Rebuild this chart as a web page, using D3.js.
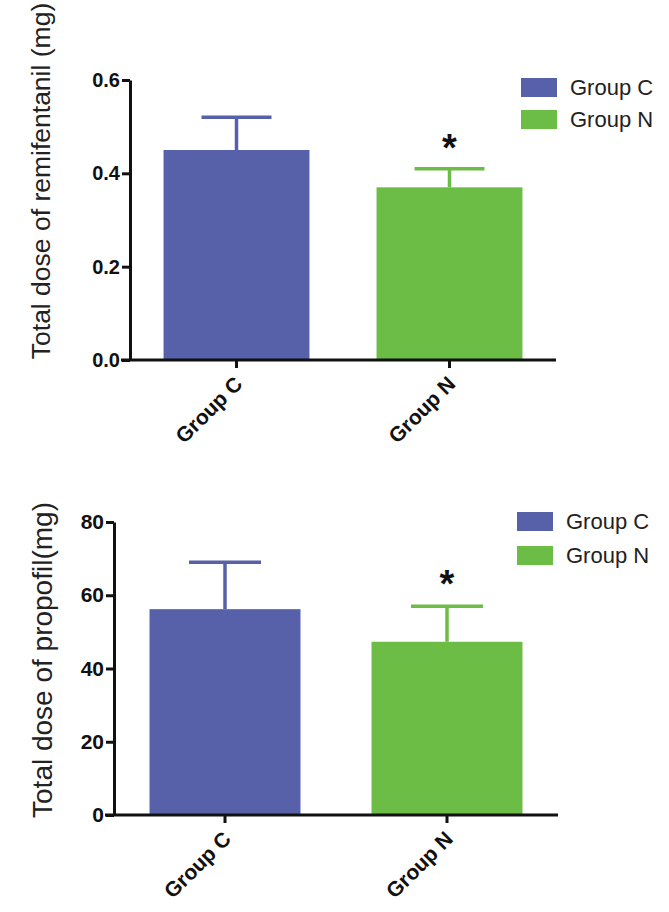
<!DOCTYPE html>
<html>
<head>
<meta charset="utf-8">
<script src="https://cdn.jsdelivr.net/npm/d3@7/dist/d3.min.js"></script>
<style>
  html, body { margin: 0; padding: 0; background: #fff; }
  svg text { font-family: "Liberation Sans", Arial, Helvetica, sans-serif; }
</style>
</head>
<body>
<svg id="chart" width="669" height="912"></svg>
<script>
// ---- data ----
const categories = ["Group C", "Group N"];
const remiMeans = [0.45, 0.37];
const remiSD = [0.07, 0.04];
const remiTicks = [0, 0.2, 0.4, 0.6];
const remiTitle = "Total dose of remifentanil (mg)";
const propMeans = [56.2, 47.3];
const propSD = [12.8, 9.7];
const propTicks = [0, 20, 40, 60, 80];
const propTitle = "Total dose of propofil(mg)";
const significant = [false, true];
const colors = ["#5761a9", "#6bbd45"];

const svg = d3.select("#chart");

function drawPanel(opt) {
  const g = svg.append("g");
  const x = d3.scaleBand().domain(categories)
    .range([opt.x0, opt.x1]).paddingInner(opt.pad).paddingOuter(opt.pad / 2);
  const y = d3.scaleLinear().domain([0, opt.ymax]).range([opt.y0, opt.y1]);

  // bars
  g.selectAll("rect.bar").data(categories).join("rect")
    .attr("class", "bar")
    .attr("x", d => x(d))
    .attr("width", x.bandwidth())
    .attr("y", (d, i) => y(opt.means[i]))
    .attr("height", (d, i) => y(0) - y(opt.means[i]))
    .attr("fill", (d, i) => colors[i]);

  // error bars (upper only)
  categories.forEach((c, i) => {
    const cx = x(c) + x.bandwidth() / 2;
    const top = y(opt.means[i] + opt.sd[i]);
    g.append("line").attr("x1", cx).attr("x2", cx)
      .attr("y1", y(opt.means[i])).attr("y2", top)
      .attr("stroke", colors[i]).attr("stroke-width", 3.5);
    g.append("line").attr("x1", cx - opt.cap).attr("x2", cx + opt.cap)
      .attr("y1", top).attr("y2", top)
      .attr("stroke", colors[i]).attr("stroke-width", 3.5);
    if (significant[i]) {
      g.append("text").attr("x", cx).attr("y", top - opt.starGap)
        .attr("text-anchor", "middle").attr("font-weight", "bold")
        .attr("font-size", 38).attr("fill", "#111").text("*");
    }
  });

  // y axis
  const ya = g.append("g").attr("transform", `translate(${opt.x0},0)`)
    .call(d3.axisLeft(y).tickValues(opt.ticks).tickFormat(opt.fmt)
      .tickSize(8).tickSizeOuter(0).tickPadding(2));
  ya.select(".domain").attr("stroke", "#111").attr("stroke-width", 3);
  ya.selectAll(".tick line").attr("stroke", "#111").attr("stroke-width", 3);
  ya.selectAll(".tick text").attr("font-size", opt.tickSize).attr("font-weight", "bold")
    .attr("fill", "#111").attr("font-family", "'Liberation Sans', Arial, sans-serif");

  // x axis
  const xa = g.append("g").attr("transform", `translate(0,${opt.y0})`)
    .call(d3.axisBottom(x).tickSize(8).tickSizeOuter(0).tickPadding(6));
  xa.select(".domain").attr("stroke", "#111").attr("stroke-width", 3)
    .attr("d", `M${opt.x0 - 9},0H${opt.xEnd}`);
  xa.selectAll(".tick line").attr("stroke", "#111").attr("stroke-width", 3);
  xa.selectAll(".tick text").attr("font-size", 21).attr("font-weight", "bold")
    .attr("fill", "#111").attr("font-family", "'Liberation Sans', Arial, sans-serif")
    .attr("text-anchor", "end")
    .attr("dy", "0.35em")
    .attr("transform", "translate(2,20) rotate(-45)")
    .attr("y", 0);

  // y title
  g.append("text")
    .attr("transform", `translate(${opt.titleX},${opt.titleY}) rotate(-90)`)
    .attr("text-anchor", "middle").attr("font-size", opt.titleSize)
    .attr("fill", "#222").text(opt.title);

  // legend
  categories.forEach((c, i) => {
    g.append("rect").attr("x", opt.legX).attr("y", opt.legY + i * opt.legStep)
      .attr("width", 36).attr("height", 19).attr("fill", colors[i]);
    g.append("text").attr("x", opt.legX + 49).attr("y", opt.legY + i * opt.legStep + 17)
      .attr("font-size", 22).attr("fill", "#222").text(c);
  });
}

drawPanel({
  x0: 130, x1: 556, xEnd: 556, pad: 0.315, y0: 360, y1: 80, ymax: 0.6,
  means: remiMeans, sd: remiSD, ticks: remiTicks, fmt: d3.format(".1f"),
  cap: 35, starGap: 8, title: remiTitle, titleX: 50, titleY: 181, titleSize: 26.5,
  legX: 521, legY: 78, legStep: 32, tickSize: 20
});

drawPanel({
  x0: 114, x1: 558, xEnd: 558, pad: 0.32, y0: 815, y1: 522, ymax: 80,
  means: propMeans, sd: propSD, ticks: propTicks, fmt: d3.format("d"),
  cap: 36, starGap: 9, title: propTitle, titleX: 52, titleY: 660, titleSize: 28,
  legX: 517, legY: 512, legStep: 34, tickSize: 21
});
</script>
</body>
</html>
